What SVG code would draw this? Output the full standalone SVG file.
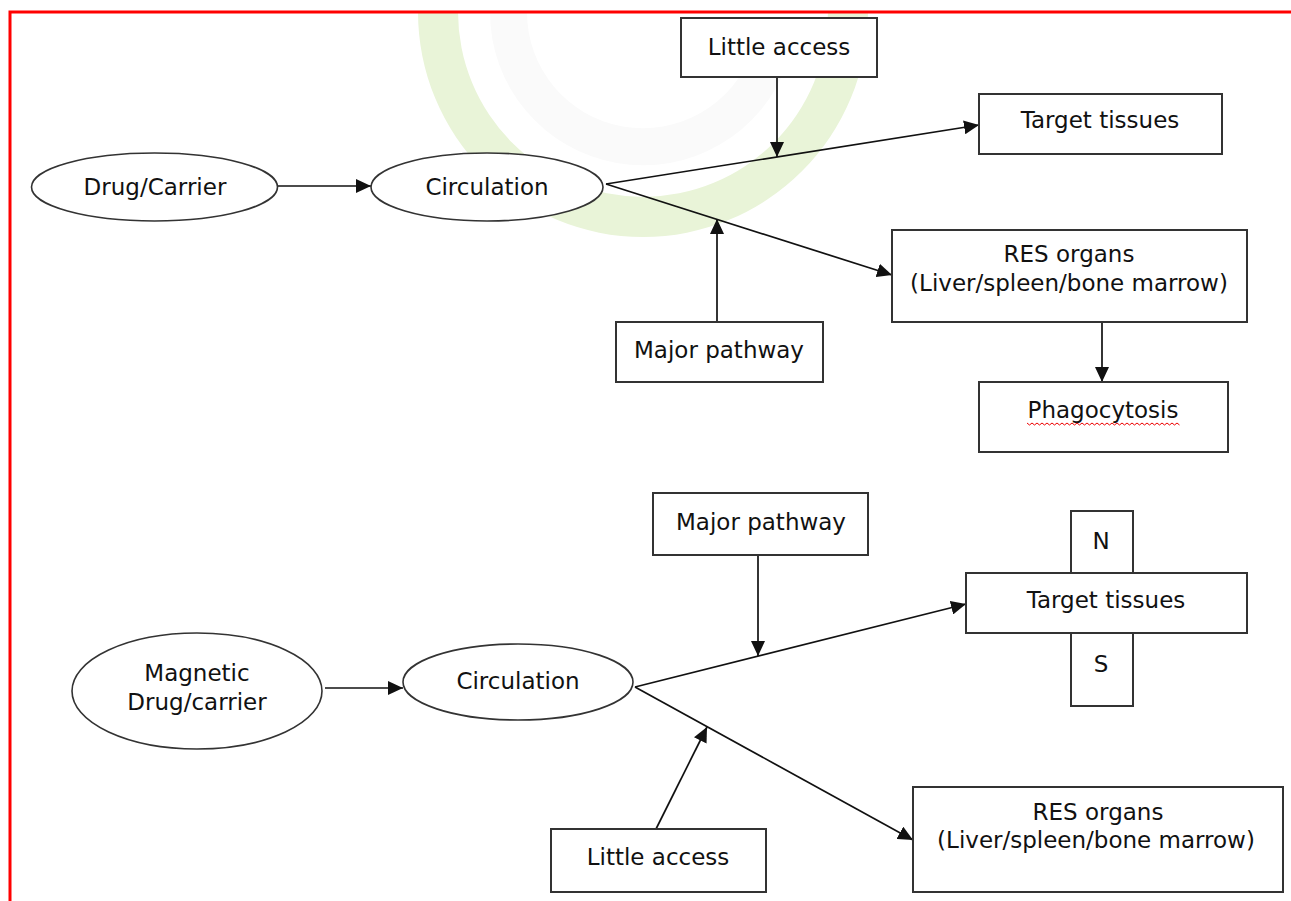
<svg xmlns="http://www.w3.org/2000/svg" width="1291" height="901" viewBox="0 0 1291 901">
<style>
.box{fill:#fff;stroke:#333;stroke-width:2}
.ell{fill:#fff;stroke:#333;stroke-width:1.6}
.t{font-family:"DejaVu Sans",Verdana,sans-serif;font-size:23px;fill:#111;text-anchor:middle}
.ln{stroke:#111;stroke-width:1.7;fill:none}
</style>
<defs>
<marker id="ah" markerUnits="userSpaceOnUse" markerWidth="16" markerHeight="14" refX="15" refY="7" orient="auto">
<path d="M0,0 L15,7 L0,14 Z" fill="#111"/>
</marker>
</defs>
<rect width="1291" height="901" fill="#fff"/>
<g id="watermark">
<path d="M418,12 A225,225 0 0 0 868,12 L828,12 A185,185 0 0 1 458,12 Z" fill="#e9f4d8"/>
<path d="M490,12 A153,153 0 0 0 787,64 L752,52 A116,116 0 0 1 527,12 Z" fill="#fafafa"/>
</g>
<g id="border" fill="none" stroke="#f00" stroke-width="3">
<path d="M10,901 L10,12 L1291,12"/>
</g>
<g id="connectors" class="ln">
<line x1="278" y1="186" x2="371" y2="186" marker-end="url(#ah)"/>
<line x1="606" y1="184" x2="979" y2="125" marker-end="url(#ah)"/>
<line x1="777" y1="77" x2="777" y2="157" marker-end="url(#ah)"/>
<line x1="606" y1="184" x2="892" y2="275" marker-end="url(#ah)"/>
<line x1="717" y1="322" x2="717" y2="219" marker-end="url(#ah)"/>
<line x1="1102" y1="322" x2="1102" y2="382" marker-end="url(#ah)"/>
<line x1="325" y1="688" x2="403" y2="688" marker-end="url(#ah)"/>
<line x1="635" y1="687" x2="966" y2="604" marker-end="url(#ah)"/>
<line x1="758" y1="555" x2="758" y2="656" marker-end="url(#ah)"/>
<line x1="635" y1="687" x2="913" y2="840" marker-end="url(#ah)"/>
<line x1="656" y1="829" x2="707" y2="727" marker-end="url(#ah)"/>
</g>
<g id="drug-carrier"><ellipse class="ell" cx="154.5" cy="187" rx="123" ry="34"/><text class="t" x="155" y="195">Drug/Carrier</text></g>
<g id="circulation-1"><ellipse class="ell" cx="487" cy="187" rx="116" ry="34"/><text class="t" x="487" y="195">Circulation</text></g>
<g id="little-access-1"><rect class="box" x="681" y="18" width="196" height="59"/><text class="t" x="779" y="55">Little access</text></g>
<g id="target-tissues-1"><rect class="box" x="979" y="94" width="243" height="60"/><text class="t" x="1100" y="128">Target tissues</text></g>
<g id="res-organs-1"><rect class="box" x="892" y="230" width="355" height="92"/><text class="t" x="1069" y="262">RES organs</text><text class="t" x="1069" y="291">(Liver/spleen/bone marrow)</text></g>
<g id="major-pathway-1"><rect class="box" x="616" y="322" width="207" height="60"/><text class="t" x="719" y="358">Major pathway</text></g>
<g id="phagocytosis"><rect class="box" x="979" y="382" width="249" height="70"/><text class="t" x="1103" y="418">Phagocytosis</text>
<path d="M1027,423 l2.5,2 l2.5,-2 l2.5,2 l2.5,-2 l2.5,2 l2.5,-2 l2.5,2 l2.5,-2 l2.5,2 l2.5,-2 l2.5,2 l2.5,-2 l2.5,2 l2.5,-2 l2.5,2 l2.5,-2 l2.5,2 l2.5,-2 l2.5,2 l2.5,-2 l2.5,2 l2.5,-2 l2.5,2 l2.5,-2 l2.5,2 l2.5,-2 l2.5,2 l2.5,-2 l2.5,2 l2.5,-2 l2.5,2 l2.5,-2 l2.5,2 l2.5,-2 l2.5,2 l2.5,-2 l2.5,2 l2.5,-2 l2.5,2 l2.5,-2 l2.5,2 l2.5,-2 l2.5,2 l2.5,-2 l2.5,2 l2.5,-2 l2.5,2 l2.5,-2 l2.5,2 l2.5,-2 l2.5,2 l2.5,-2 l2.5,2 l2.5,-2 l2.5,2 l2.5,-2 l2.5,2 l2.5,-2 l2.5,2 l2.5,-2 l2.5,2" fill="none" stroke="#e00" stroke-width="1"/></g>
<g id="magnetic-drug"><ellipse class="ell" cx="197" cy="691" rx="125" ry="58"/><text class="t" x="197" y="681">Magnetic</text><text class="t" x="197" y="710">Drug/carrier</text></g>
<g id="circulation-2"><ellipse class="ell" cx="518" cy="682" rx="115" ry="38"/><text class="t" x="518" y="689">Circulation</text></g>
<g id="major-pathway-2"><rect class="box" x="653" y="493" width="215" height="62"/><text class="t" x="761" y="530">Major pathway</text></g>
<g id="magnet-n"><rect class="box" x="1071" y="511" width="62" height="62"/><text class="t" x="1101" y="549">N</text></g>
<g id="magnet-s"><rect class="box" x="1071" y="633" width="62" height="73"/><text class="t" x="1101" y="672">S</text></g>
<g id="target-tissues-2"><rect class="box" x="966" y="573" width="281" height="60"/><text class="t" x="1106" y="608">Target tissues</text></g>
<g id="res-organs-2"><rect class="box" x="913" y="787" width="370" height="105"/><text class="t" x="1098" y="820">RES organs</text><text class="t" x="1096" y="848">(Liver/spleen/bone marrow)</text></g>
<g id="little-access-2"><rect class="box" x="551" y="829" width="215" height="63"/><text class="t" x="658" y="865">Little access</text></g>
</svg>
